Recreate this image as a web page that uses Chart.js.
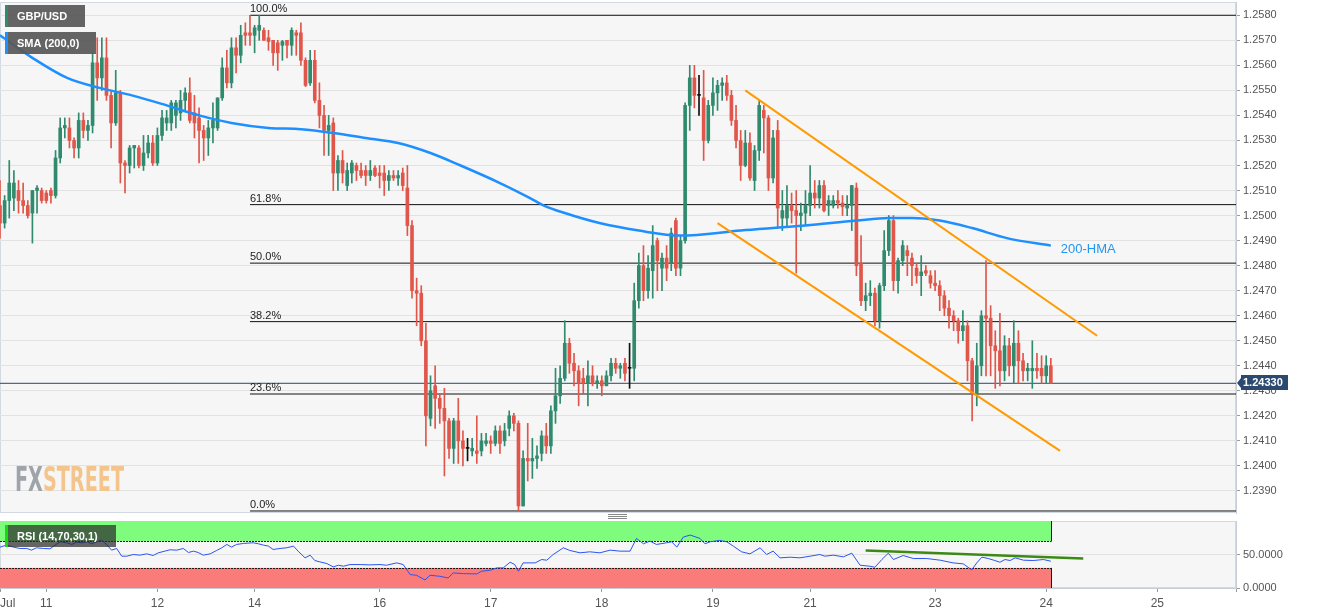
<!DOCTYPE html>
<html>
<head>
<meta charset="utf-8">
<title>GBP/USD H1</title>
<script src="https://cdn.jsdelivr.net/npm/chart.js@4.4.1/dist/chart.umd.min.js"></script>
<style>
  body { margin: 0; background: #fff; }
  #wrap { position: relative; width: 1331px; height: 615px; }
  canvas { position: absolute; left: 0; }
</style>
</head>
<body>
<div id="wrap">
  <canvas id="priceChart" width="1331" height="519" style="top:0"></canvas>
  <canvas id="rsiChart" width="1331" height="96" style="top:519px"></canvas>
</div>
<script>
// hourly candles, Jul 10 14:00 -> Jul 24 01:00 (weekend hours left out)
const opens = [
  1.2504, 1.2497, 1.2506, 1.2507, 1.2510, 1.2506, 1.2504, 1.2501, 1.2510, 1.2510, 1.2509, 1.2510,
  1.2508, 1.2523, 1.2535, 1.2535, 1.2530, 1.2527, 1.2538, 1.2534, 1.2536, 1.2561, 1.2555, 1.2563,
  1.2548, 1.2537, 1.2549, 1.2521, 1.2520, 1.2527, 1.2527, 1.2520, 1.2525, 1.2529, 1.2521, 1.2532,
  1.2537, 1.2537, 1.2540, 1.2541, 1.2546, 1.2549, 1.2541, 1.2539, 1.2534, 1.2531, 1.2535, 1.2535,
  1.2547, 1.2559, 1.2553, 1.2567, 1.2564, 1.2573, 1.2573, 1.2572, 1.2574, 1.2574, 1.2571, 1.2570,
  1.2569, 1.2568, 1.2570, 1.2568, 1.2573, 1.2573, 1.2562, 1.2553, 1.2562, 1.2546, 1.2540, 1.2534,
  1.2537, 1.2517, 1.2522, 1.2512, 1.2517, 1.2520, 1.2518, 1.2518, 1.2516, 1.2519, 1.2517, 1.2517,
  1.2514, 1.2516, 1.2515, 1.2517, 1.2511, 1.2496, 1.2470, 1.2469, 1.2450, 1.2419, 1.2432, 1.2427,
  1.2423, 1.2418, 1.2407, 1.2418, 1.2410, 1.2407, 1.2406, 1.2406, 1.2406, 1.2409, 1.2410, 1.2409,
  1.2414, 1.2410, 1.2415, 1.2420, 1.2417, 1.2384, 1.2403, 1.2402, 1.2403, 1.2405, 1.2412, 1.2408,
  1.2422, 1.2428, 1.2435, 1.2449, 1.2441, 1.2438, 1.2435, 1.2433, 1.2436, 1.2433, 1.2434, 1.2432,
  1.2436, 1.2441, 1.2439, 1.2441, 1.2439, 1.2439, 1.2466, 1.2480, 1.2470, 1.2478, 1.2490, 1.2479,
  1.2483, 1.2481, 1.2498, 1.2479, 1.2490, 1.2544, 1.2555, 1.2548, 1.2547, 1.2530, 1.2544, 1.2549,
  1.2552, 1.2553, 1.2548, 1.2538, 1.2530, 1.2520, 1.2529, 1.2514, 1.2526, 1.2542, 1.2539, 1.2515,
  1.2534, 1.2499, 1.2499, 1.2504, 1.2502, 1.2500, 1.2501, 1.2504, 1.2509, 1.2507, 1.2512, 1.2504,
  1.2504, 1.2506, 1.2505, 1.2503, 1.2504, 1.2511, 1.2481, 1.2466, 1.2468, 1.2469, 1.2458, 1.2472,
  1.2486, 1.2498, 1.2474, 1.2482, 1.2486, 1.2483, 1.2479, 1.2476, 1.2478, 1.2476, 1.2473, 1.2472,
  1.2468, 1.2463, 1.2460, 1.2458, 1.2454, 1.2456, 1.2442, 1.2429, 1.2440, 1.2460, 1.2459, 1.2448,
  1.2446, 1.2438, 1.2448, 1.2440, 1.2449, 1.2442, 1.2438, 1.2438, 1.2439, 1.2439, 1.2436, 1.2440
];
const highs = [
  1.2514, 1.2508, 1.2522, 1.2518, 1.2514, 1.2513, 1.2506, 1.2510, 1.2512, 1.2511, 1.2510, 1.2511,
  1.2526, 1.2539, 1.2539, 1.2539, 1.2531, 1.2541, 1.2541, 1.2538, 1.2565, 1.2571, 1.2571, 1.2571,
  1.2550, 1.2558, 1.2550, 1.2522, 1.2528, 1.2528, 1.2528, 1.2532, 1.2532, 1.2532, 1.2535, 1.2542,
  1.2542, 1.2546, 1.2546, 1.2550, 1.2551, 1.2555, 1.2548, 1.2543, 1.2536, 1.2538, 1.2545, 1.2547,
  1.2563, 1.2566, 1.2571, 1.2571, 1.2576, 1.2577, 1.2580, 1.2576, 1.2580, 1.2575, 1.2574, 1.2570,
  1.2570, 1.2570, 1.2570, 1.2575, 1.2574, 1.2577, 1.2563, 1.2566, 1.2566, 1.2553, 1.2544, 1.2540,
  1.2539, 1.2524, 1.2526, 1.2521, 1.2522, 1.2521, 1.2521, 1.2520, 1.2522, 1.2520, 1.2520, 1.2520,
  1.2518, 1.2518, 1.2518, 1.2519, 1.2520, 1.2498, 1.2475, 1.2472, 1.2457, 1.2436, 1.2440, 1.2429,
  1.2431, 1.2419, 1.2419, 1.2427, 1.2414, 1.2411, 1.2411, 1.2420, 1.2413, 1.2413, 1.2412, 1.2416,
  1.2416, 1.2417, 1.2422, 1.2421, 1.2418, 1.2406, 1.2417, 1.2411, 1.2408, 1.2414, 1.2417, 1.2424,
  1.2439, 1.2440, 1.2458, 1.2451, 1.2445, 1.2440, 1.2439, 1.2442, 1.2440, 1.2436, 1.2436, 1.2438,
  1.2443, 1.2443, 1.2441, 1.2443, 1.2449, 1.2473, 1.2485, 1.2488, 1.2484, 1.2496, 1.2491, 1.2485,
  1.2488, 1.2495, 1.2499, 1.2492, 1.2545, 1.2560, 1.2560, 1.2556, 1.2558, 1.2546, 1.2555, 1.2554,
  1.2555, 1.2556, 1.2550, 1.2544, 1.2534, 1.2534, 1.2533, 1.2528, 1.2546, 1.2544, 1.2540, 1.2534,
  1.2538, 1.2510, 1.2512, 1.2509, 1.2510, 1.2505, 1.2510, 1.2520, 1.2514, 1.2514, 1.2514, 1.2508,
  1.2508, 1.2510, 1.2508, 1.2508, 1.2512, 1.2513, 1.2492, 1.2473, 1.2474, 1.2471, 1.2473, 1.2494,
  1.2500, 1.2500, 1.2483, 1.2490, 1.2488, 1.2485, 1.2481, 1.2484, 1.2480, 1.2478, 1.2478, 1.2474,
  1.2470, 1.2466, 1.2462, 1.2459, 1.2462, 1.2458, 1.2443, 1.2449, 1.2462, 1.2482, 1.2464, 1.2454,
  1.2461, 1.2452, 1.2451, 1.2458, 1.2454, 1.2445, 1.2441, 1.2450, 1.2445, 1.2444, 1.2444, 1.2443
];
const lows = [
  1.2491, 1.2495, 1.2499, 1.2502, 1.2501, 1.2501, 1.2499, 1.2489, 1.2501, 1.2505, 1.2505, 1.2505,
  1.2507, 1.2521, 1.2531, 1.2527, 1.2523, 1.2523, 1.2531, 1.2530, 1.2533, 1.2546, 1.2550, 1.2546,
  1.2527, 1.2536, 1.2513, 1.2509, 1.2517, 1.2519, 1.2519, 1.2518, 1.2523, 1.2520, 1.2520, 1.2530,
  1.2534, 1.2534, 1.2535, 1.2538, 1.2542, 1.2537, 1.2531, 1.2521, 1.2522, 1.2524, 1.2529, 1.2534,
  1.2546, 1.2551, 1.2551, 1.2557, 1.2561, 1.2568, 1.2568, 1.2565, 1.2570, 1.2570, 1.2566, 1.2560,
  1.2558, 1.2562, 1.2563, 1.2564, 1.2564, 1.2560, 1.25515, 1.2552, 1.2545, 1.2535, 1.2524, 1.2524,
  1.2510, 1.2510, 1.2513, 1.2510, 1.2513, 1.2514, 1.2515, 1.2512, 1.2514, 1.25155, 1.2511, 1.2508,
  1.2510, 1.2514, 1.2512, 1.2510, 1.2492, 1.2467, 1.2456, 1.2448, 1.2408, 1.2416, 1.2415, 1.2417,
  1.2396, 1.2403, 1.2401, 1.2401, 1.2400, 1.2402, 1.2404, 1.2401, 1.2404, 1.2408, 1.2405, 1.2408,
  1.2405, 1.2408, 1.2412, 1.2414, 1.2382, 1.2384, 1.2394, 1.2395, 1.2399, 1.2402, 1.2405, 1.2405,
  1.2417, 1.2425, 1.2434, 1.2437, 1.2432, 1.2424, 1.2429, 1.2424, 1.2432, 1.2431, 1.2428, 1.2432,
  1.2434, 1.2437, 1.2435, 1.2434, 1.2431, 1.2434, 1.2463, 1.2466, 1.2467, 1.2467, 1.2470, 1.2470,
  1.2474, 1.2478, 1.2476, 1.2476, 1.2489, 1.2534, 1.2543, 1.2540, 1.2522, 1.2529, 1.2540, 1.2542,
  1.2546, 1.2546, 1.2536, 1.2527, 1.2514, 1.25195, 1.2514, 1.2510, 1.2522, 1.2525, 1.2510, 1.2513,
  1.2495, 1.2494, 1.2496, 1.2497, 1.2477, 1.2494, 1.2496, 1.2500, 1.2503, 1.2503, 1.25015, 1.2500,
  1.2503, 1.2503, 1.2500, 1.2500, 1.2494, 1.2476, 1.2464, 1.2462, 1.2464, 1.2456, 1.2455, 1.2470,
  1.2484, 1.2470, 1.2469, 1.2480, 1.2476, 1.2472, 1.2473, 1.2468, 1.2476, 1.2471, 1.2470, 1.2462,
  1.2460, 1.2455, 1.2454, 1.2449, 1.2450, 1.2434, 1.2418, 1.2424, 1.2436, 1.2436, 1.2436, 1.2431,
  1.2432, 1.2434, 1.2436, 1.2433, 1.2433, 1.2434, 1.2434, 1.2431, 1.2435, 1.2433, 1.2433, 1.2433
];
const closes = [
  1.2497, 1.2506, 1.2513, 1.2513, 1.2506, 1.2504, 1.2500, 1.2510, 1.2511, 1.2506, 1.2506, 1.2508,
  1.2523, 1.2535, 1.2536, 1.2530, 1.2527, 1.2538, 1.2534, 1.2536, 1.2561, 1.2555, 1.2563, 1.2548,
  1.2537, 1.2549, 1.2521, 1.2520, 1.2527, 1.2528, 1.2520, 1.2525, 1.2529, 1.2521, 1.2532, 1.2539,
  1.2539, 1.2545, 1.2545, 1.2546, 1.2549, 1.2538, 1.2537, 1.2534, 1.2531, 1.2535, 1.2538, 1.2547,
  1.2559, 1.2553, 1.2567, 1.2564, 1.2572, 1.2572, 1.2572, 1.2575, 1.2576, 1.2570, 1.25695, 1.2565,
  1.2565, 1.25695, 1.2568, 1.2574, 1.2572, 1.2562, 1.2552, 1.2562, 1.2546, 1.2540, 1.2534, 1.2536,
  1.2517, 1.2522, 1.2517, 1.2518, 1.2521, 1.2518, 1.2516, 1.2516, 1.2518, 1.2516, 1.2516, 1.2514,
  1.2516, 1.2515, 1.2516, 1.2512, 1.2496, 1.2470, 1.2469, 1.2450, 1.2420, 1.2430, 1.2427, 1.2423,
  1.2418, 1.2407, 1.2418, 1.2410, 1.2407, 1.2407, 1.2407, 1.2405, 1.2410, 1.2410, 1.2409, 1.2414,
  1.2409, 1.2414, 1.2420, 1.2417, 1.2384, 1.2403, 1.2402, 1.2403, 1.2404, 1.2412, 1.2408, 1.2422,
  1.2428, 1.2435, 1.2449, 1.2441, 1.2438, 1.2433, 1.2433, 1.2436, 1.2433, 1.2434, 1.2432, 1.2436,
  1.2441, 1.2439, 1.2440, 1.2437, 1.2439, 1.2466, 1.2480, 1.2470, 1.2479, 1.2488, 1.2482, 1.2483,
  1.2479, 1.2493, 1.2479, 1.2490, 1.2544, 1.2555, 1.2548, 1.2548, 1.2530, 1.2544, 1.2549, 1.2552,
  1.2553, 1.2548, 1.2538, 1.2530, 1.2520, 1.2529, 1.2515, 1.2526, 1.2544, 1.2539, 1.2515, 1.2531,
  1.2503, 1.2502, 1.2504, 1.2502, 1.2500, 1.2501, 1.2504, 1.2509, 1.2507, 1.2512, 1.2502, 1.2506,
  1.2506, 1.2505, 1.25035, 1.2504, 1.2512, 1.2480, 1.2466, 1.2468, 1.2469, 1.2458, 1.2472, 1.2486,
  1.2498, 1.2474, 1.2482, 1.2488, 1.2484, 1.2480, 1.2476, 1.24775, 1.2477, 1.2473, 1.2472, 1.2468,
  1.2463, 1.2460, 1.2458, 1.2454, 1.2456, 1.2442, 1.2429, 1.2440, 1.2460, 1.2459, 1.2448, 1.2446,
  1.2438, 1.2448, 1.2440, 1.2449, 1.2442, 1.2438, 1.2439, 1.2439, 1.2438, 1.2436, 1.2440, 1.2433
];

// 200 SMA, read at a few candle positions
const smaIdx = [0, 7, 14.5, 21.5, 28.5, 36, 43, 50, 58, 65, 72, 79, 86, 93, 99.5, 108,
  114.5, 117.5, 122, 129.5, 138, 147, 160, 174, 185, 192, 197, 203, 210, 217.5, 227];
const smaVal = [1.2572, 1.2563, 1.2555, 1.2551, 1.2548, 1.2544, 1.2540, 1.2537, 1.2535, 1.25345,
  1.2533, 1.2531, 1.2529, 1.2525, 1.2520, 1.2513, 1.2507, 1.2504, 1.2501, 1.2497, 1.2494,
  1.2492, 1.2494, 1.2496, 1.2498, 1.2499, 1.2499, 1.2498, 1.2495, 1.2491, 1.2488];

// RSI (14)
const rsiIdx = [
  0, 1.4, 2.9, 4.3, 5.8, 6.8, 7.9, 9.4, 10.8, 11.9,
  13, 14.4, 15.5, 16.6, 17.6, 18.9, 19.8, 20.9, 22, 23,
  24.1, 25.2, 26.3, 27.4, 28.8, 30.2, 31.7, 33.1, 34.2, 35.6,
  36.7, 38.2, 39.6, 40.7, 41.8, 42.8, 43.9, 45.4, 46.8, 47.9,
  49, 50, 51.1, 52.6, 54.7, 55.8, 56.9, 58, 59, 60.5,
  61.9, 63.4, 64.4, 65.9, 67, 68, 69.1, 70.6, 72, 73.1,
  74.2, 75.6, 77.8, 79.9, 82.1, 83.5, 85.7, 87.1, 88.6, 90,
  91.8, 92.9, 95, 96.8, 97.9, 100.1, 103, 104, 105.9, 107.3,
  108.7, 110.2, 111.2, 112, 113, 115.6, 117, 118.1, 119.5, 121.7,
  123.1, 125.3, 127.4, 129.6, 131.8, 133.9, 136.1, 137.5, 139, 140.4,
  141.8, 144, 145.1, 146.2, 147.6, 149.1, 151.2, 152.3, 153.4, 155.5,
  157, 158.4, 160.2, 162, 164.2, 165.6, 167, 168.5, 170.7, 172.8,
  175, 177.1, 178.2, 180, 182.2, 184, 185.8, 187.9, 189, 190.5,
  191.9, 193, 195.1, 197.3, 200.2, 203.1, 205.9, 208.1, 209.9, 211,
  212.1, 213.5, 214.9, 216, 217.1, 218.2, 219.3, 221.1, 223.2, 225.4,
  227
];
const rsiVal = [
  61, 64, 61, 59, 59, 56.5, 60, 59, 58.5, 64,
  69, 67.5, 65, 68.5, 67.5, 69, 66, 69, 71.5, 65,
  56.5, 59, 47.5, 47.5, 50, 49, 51, 48.5, 52.5, 55,
  57, 56.5, 59, 53, 55, 53, 49, 51, 56, 60,
  65, 61, 65, 66.5, 67.5, 66, 64, 62.5, 57.5, 59,
  60, 62.5, 55, 45, 49, 41, 39, 36.5, 31.5, 34,
  32.5, 35, 35, 34.5, 35, 34, 37.5, 35, 20, 19,
  12, 19, 17.5, 15, 22.5, 21.5, 21, 25, 26.5, 30,
  30, 38.5, 35, 25, 37.5, 37.5, 42.5, 41.5, 50, 60,
  56, 52.5, 54, 52.5, 56.5, 55, 55, 74, 66, 70,
  65, 67.5, 69, 61, 76, 79, 74, 66, 69, 71,
  69, 62.5, 54, 51, 60, 50, 55, 45, 46, 45,
  47.5, 50, 47.5, 49, 46.5, 52, 34, 32.5, 31, 42.5,
  52, 42.5, 48.5, 44, 44, 41.5, 37.5, 36, 27, 37.5,
  46, 44, 41, 38.5, 42.5, 41, 45, 41.5, 41, 42.5,
  40
];
const rsiUpper = 70, rsiLower = 30;

// drawn trend lines
const channelTopIdx = [161, 237];
const channelTopVal = [1.2550, 1.2452];
const channelLowIdx = [155, 229];
const channelLowVal = [1.2497, 1.2406];
const rsiTrendIdx = [187, 234];
const rsiTrendVal = [56, 44];

const fibRatios = [1, 0.618, 0.5, 0.382, 0.236, 0];

// axes
const priceTicks = [1.2390, 1.2400, 1.2410, 1.2420, 1.2430, 1.2440, 1.2450, 1.2460, 1.2470, 1.2480,
  1.2490, 1.2500, 1.2510, 1.2520, 1.2530, 1.2540, 1.2550, 1.2560, 1.2570, 1.2580];
const rsiTicks = [0, 50];
const dayTickIdx = [0, 10, 34, 55, 82, 106, 130, 154, 175, 202, 226, 250];
const dayLabels = ['Jul', '11', '12', '14', '16', '17', '18', '19', '21', '23', '24', '25'];
const xMax = 267;

Chart.defaults.font.family = '"Liberation Sans", Arial, sans-serif';
Chart.defaults.font.size = 11;
Chart.defaults.color = '#555';

const upColor = '#2f8a6e', downColor = '#e0564a', flatColor = '#111';
const candleColors = opens.map((o, i) => closes[i] > o ? upColor : (closes[i] < o ? downColor : flatColor));

const fibHigh = Math.max(...highs);
const fibLow = Math.min(...lows);
const fibStart = highs.indexOf(fibHigh);
const lastIdx = closes.length - 1;
const lastClose = closes[lastIdx];

const toPoints = (xs, ys) => xs.map((x, i) => ({x: x, y: ys[i]}));

const fibSets = fibRatios.map(r => {
  const lvl = fibLow + (fibHigh - fibLow) * r;
  return {
    type: 'line',
    data: [{x: fibStart, y: lvl}, {x: xMax, y: lvl}],
    borderColor: '#111', borderWidth: 1, pointRadius: 0, order: 5
  };
});

// keep the plot areas flush with the canvas edges
const noPadY = s => { s.width = 95; s.paddingTop = 0; s.paddingBottom = 0; };

function legendBox(ctx, x, y, w, h, fill, accent, text) {
  ctx.fillStyle = fill;
  ctx.fillRect(x, y, w, h);
  ctx.fillStyle = accent;
  ctx.fillRect(x, y, 3, h);
  ctx.fillStyle = '#fff';
  ctx.font = 'bold 11px "Liberation Sans", Arial, sans-serif';
  ctx.textBaseline = 'middle';
  ctx.textAlign = 'left';
  ctx.fillText(text, x + 12, y + h / 2 + 1);
}

function paneBackground(chart) {
  const {ctx, chartArea: a} = chart;
  ctx.save();
  ctx.fillStyle = '#f6f6f6';
  ctx.fillRect(a.left, a.top, a.right - a.left, a.bottom - a.top);
  ctx.strokeStyle = '#d3d9e2';
  ctx.lineWidth = 1;
  ctx.strokeRect(a.left + 0.5, a.top + 0.5, a.right - a.left - 1, a.bottom - a.top - 1);
  ctx.restore();
}

const priceDecor = {
  id: 'priceDecor',
  beforeDraw: paneBackground,
  beforeDatasetsDraw(chart) {
    // watermark
    const ctx = chart.ctx;
    ctx.save();
    ctx.font = 'bold 34px "DejaVu Sans Condensed", "Liberation Sans Narrow", sans-serif';
    const w1 = ctx.measureText('FX').width;
    const w2 = ctx.measureText('STREET').width;
    ctx.translate(15, 491);
    ctx.scale(109 / (w1 + w2), 1);
    ctx.textBaseline = 'alphabetic';
    ctx.fillStyle = '#9fa4ab';
    ctx.fillText('FX', 0, 0);
    ctx.fillStyle = '#f3c58c';
    ctx.fillText('STREET', w1, 0);
    ctx.restore();
  },
  afterDatasetsDraw(chart) {
    const {ctx, scales: {x, y}} = chart;
    ctx.save();
    ctx.font = '11px "Liberation Sans", Arial, sans-serif';
    ctx.fillStyle = '#222';
    ctx.textAlign = 'left';
    ctx.textBaseline = 'alphabetic';
    fibRatios.forEach(r => {
      const lvl = fibLow + (fibHigh - fibLow) * r;
      ctx.fillText((r * 100).toFixed(1) + '%', x.getPixelForValue(fibStart), y.getPixelForValue(lvl) - 3);
    });
    ctx.font = '13px "Liberation Sans", Arial, sans-serif';
    ctx.fillStyle = '#2196f3';
    ctx.textBaseline = 'middle';
    ctx.fillText('200-HMA', x.getPixelForValue(smaIdx[smaIdx.length - 1]) + 10,
      y.getPixelForValue(smaVal[smaVal.length - 1]) + 4);
    ctx.restore();
  },
  afterDraw(chart) {
    const {ctx, chartArea: a, scales: {y}} = chart;
    ctx.save();
    legendBox(ctx, 5, 5, 80, 22, 'rgba(88,88,88,0.93)', upColor, 'GBP/USD');
    legendBox(ctx, 5, 32, 91, 22, 'rgba(88,88,88,0.93)', '#1e8fff', 'SMA (200,0)');

    // last price tag
    const py = Math.round(y.getPixelForValue(lastClose));
    ctx.fillStyle = '#2c4a6f';
    ctx.beginPath();
    ctx.moveTo(a.right + 1, py);
    ctx.lineTo(a.right + 5, py - 5);
    ctx.lineTo(a.right + 5, py - 8);
    ctx.lineTo(a.right + 52, py - 8);
    ctx.lineTo(a.right + 52, py + 7);
    ctx.lineTo(a.right + 5, py + 7);
    ctx.lineTo(a.right + 5, py + 5);
    ctx.closePath();
    ctx.fill();
    ctx.fillStyle = '#fff';
    ctx.font = 'bold 11px "Liberation Sans", Arial, sans-serif';
    ctx.textBaseline = 'middle';
    ctx.textAlign = 'left';
    ctx.fillText(lastClose.toFixed(5), a.right + 7, py);

    // pane resize handle
    ctx.strokeStyle = '#888';
    ctx.lineWidth = 1;
    [514.5, 516.5, 518.5].forEach(hy => {
      ctx.beginPath();
      ctx.moveTo(608, hy);
      ctx.lineTo(627, hy);
      ctx.stroke();
    });
    ctx.restore();
  }
};

const rsiDecor = {
  id: 'rsiDecor',
  beforeDraw: paneBackground,
  beforeDatasetsDraw(chart) {
    const {ctx, scales: {x, y}} = chart;
    const x0 = x.getPixelForValue(0), x1 = Math.round(x.getPixelForValue(lastIdx)) + 0.5;
    const yTop = y.getPixelForValue(100), yHi = y.getPixelForValue(rsiUpper);
    const yLo = y.getPixelForValue(rsiLower), yBot = y.getPixelForValue(0);
    ctx.save();
    ctx.fillStyle = '#7ffc7d';
    ctx.fillRect(x0, yTop, x1 - x0, yHi - yTop);
    ctx.fillStyle = '#f97c7a';
    ctx.fillRect(x0, yLo, x1 - x0, yBot - yLo);
    ctx.strokeStyle = '#1a1a1a';
    ctx.lineWidth = 1;
    ctx.setLineDash([2, 1]);
    [yHi, yLo].forEach(ly => {
      ctx.beginPath();
      ctx.moveTo(x0, Math.round(ly) + 0.5);
      ctx.lineTo(x1, Math.round(ly) + 0.5);
      ctx.stroke();
    });
    ctx.setLineDash([]);
    ctx.beginPath();
    ctx.moveTo(x1, yTop); ctx.lineTo(x1, yHi);
    ctx.moveTo(x1, yLo); ctx.lineTo(x1, yBot);
    ctx.stroke();
    ctx.restore();
  },
  afterDraw(chart) {
    const ctx = chart.ctx;
    ctx.save();
    legendBox(ctx, 5, 6, 111, 22, 'rgba(45,45,45,0.72)', '#12dd12', 'RSI (14,70,30,1)');
    ctx.restore();
  }
};

// price pane
const priceConfig = {
  type: 'bar',
  data: {
    datasets: [
      {
        type: 'bar',
        data: opens.map((o, i) => ({x: i, y: [o, closes[i]]})),
        backgroundColor: candleColors,
        barThickness: 3, minBarLength: 1, grouped: false, order: 3
      },
      {
        type: 'bar',
        data: lows.map((l, i) => ({x: i, y: [l, highs[i]]})),
        backgroundColor: candleColors,
        barThickness: 1, grouped: false, order: 4
      },
      {
        type: 'line',
        data: toPoints(smaIdx, smaVal),
        borderColor: '#1e8fff', borderWidth: 2.5, pointRadius: 0,
        cubicInterpolationMode: 'monotone', order: 2
      },
      {
        type: 'line',
        data: toPoints(channelTopIdx, channelTopVal),
        borderColor: '#ff9a00', borderWidth: 2, pointRadius: 0, order: 1
      },
      {
        type: 'line',
        data: toPoints(channelLowIdx, channelLowVal),
        borderColor: '#ff9a00', borderWidth: 2, pointRadius: 0, order: 1
      },
      {
        type: 'line',
        data: [{x: 0, y: lastClose}, {x: xMax, y: lastClose}],
        borderColor: '#2c4668', borderWidth: 1, pointRadius: 0, order: 5
      },
      ...fibSets
    ]
  },
  options: {
    responsive: false,
    animation: false,
    devicePixelRatio: 1,
    events: [],
    layout: {padding: {top: 2, bottom: 6, left: 0, right: 0}},
    plugins: {legend: {display: false}, tooltip: {enabled: false}},
    scales: {
      x: {type: 'linear', min: 0, max: xMax, display: false, offset: false},
      y: {
        position: 'right',
        min: 1.23812,
        max: 1.25853,
        afterBuildTicks: s => { s.ticks = priceTicks.map(v => ({value: v})); },
        afterFit: noPadY,
        ticks: {callback: v => v.toFixed(4), color: '#555', padding: 3},
        grid: {color: '#e2e2e2', tickLength: 4, tickColor: '#9a9a9a'},
        border: {color: '#c6cdd7'}
      }
    }
  },
  plugins: [priceDecor]
};

// RSI pane
const rsiConfig = {
  type: 'line',
  data: {
    datasets: [
      {
        data: toPoints(rsiIdx, rsiVal),
        borderColor: '#2b54f2', borderWidth: 1, pointRadius: 0, tension: 0
      },
      {
        data: toPoints(rsiTrendIdx, rsiTrendVal),
        borderColor: '#3a8a14', borderWidth: 2.5, pointRadius: 0
      }
    ]
  },
  options: {
    responsive: false,
    animation: false,
    devicePixelRatio: 1,
    events: [],
    layout: {padding: {top: 2, bottom: 0, left: 0, right: 0}},
    plugins: {legend: {display: false}, tooltip: {enabled: false}},
    scales: {
      x: {
        type: 'linear', min: 0, max: xMax, offset: false,
        afterBuildTicks: s => { s.ticks = dayTickIdx.concat([xMax]).map(v => ({value: v})); },
        afterFit: s => { s.height = 27; s.paddingLeft = 0; s.paddingRight = 0; },
        ticks: {
          callback: (v, i) => dayLabels[i] || '',
          autoSkip: false, maxRotation: 0, align: 'inner',
          color: '#555', font: {size: 12}, padding: 4
        },
        grid: {drawOnChartArea: false, tickLength: 4, tickColor: '#9a9a9a'},
        border: {color: '#c6cdd7'}
      },
      y: {
        position: 'right', min: 0, max: 100,
        afterBuildTicks: s => { s.ticks = rsiTicks.map(v => ({value: v})); },
        afterFit: noPadY,
        ticks: {callback: v => v.toFixed(4), color: '#555', padding: 3},
        grid: {color: '#e2e2e2', tickLength: 4, tickColor: '#9a9a9a'},
        border: {color: '#c6cdd7'}
      }
    }
  },
  plugins: [rsiDecor]
};

const priceChart = new Chart(document.getElementById('priceChart'), priceConfig);
const rsiChart = new Chart(document.getElementById('rsiChart'), rsiConfig);
</script>
</body>
</html>
